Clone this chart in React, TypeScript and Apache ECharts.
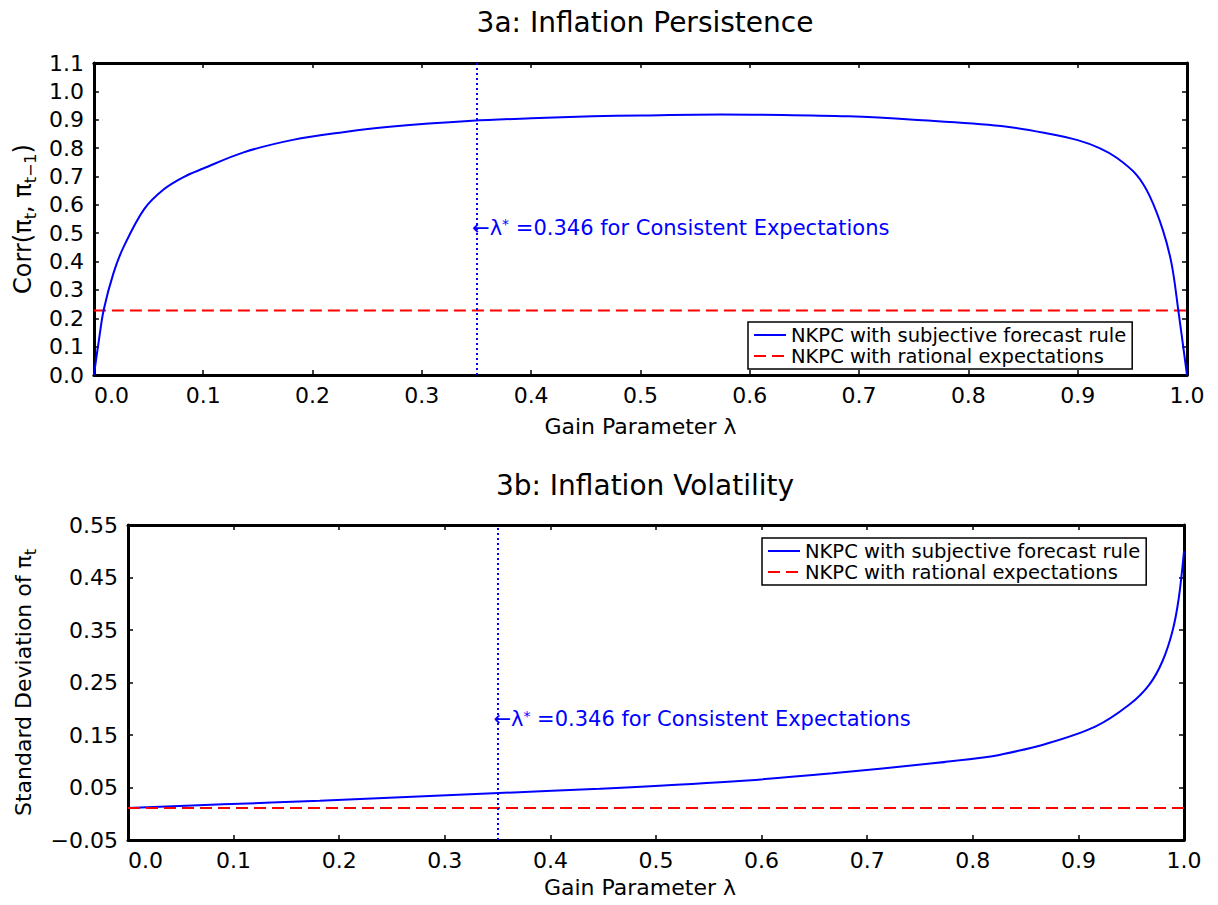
import React, { useEffect, useRef } from "react";
import * as echarts from "echarts";

const FONT = "DejaVu Sans";

// Panel 3a: correlation of inflation with its lag vs gain parameter
const lambdaTop = [0, 0.0046, 0.009, 0.018, 0.027, 0.046, 0.064, 0.082, 0.1, 0.137, 0.182, 0.228, 0.273, 0.346, 0.4, 0.456, 0.5, 0.574, 0.63, 0.69, 0.75, 0.83, 0.875, 0.9, 0.92, 0.936, 0.954, 0.966, 0.978, 0.986, 0.992, 1.0];
const corrTop = [0, 0.123, 0.23, 0.36, 0.45, 0.585, 0.655, 0.698, 0.728, 0.785, 0.829, 0.856, 0.876, 0.896, 0.905, 0.912, 0.915, 0.918, 0.917, 0.912, 0.90, 0.878, 0.85, 0.828, 0.80, 0.765, 0.705, 0.63, 0.51, 0.39, 0.23, 0];
const corrRE = 0.227;

// Panel 3b: standard deviation of inflation vs gain parameter
const lambdaBottom = [0, 0.09, 0.1816, 0.3457, 0.4465, 0.572, 0.667, 0.762, 0.806, 0.825, 0.869, 0.916, 0.948, 0.967, 0.9795, 0.989, 0.995, 1.0];
const sdBottom = [0.011, 0.018, 0.0247, 0.0391, 0.0475, 0.0614, 0.077, 0.096, 0.106, 0.112, 0.133, 0.166, 0.2075, 0.2456, 0.29, 0.347, 0.41, 0.5];
const sdRE = 0.011;

const lambdaEnds = [0, 1];
const lambdaStar = 0.346;
const annotTopY = 0.52;
const annotBottomY = 0.18;

const SUBJ = "NKPC with subjective forecast rule";
const RAT = "NKPC with rational expectations";

const BLUE = "#0000ff";
const RED = "#ff0000";

export default function App() {
  const ref = useRef<HTMLDivElement>(null);

  useEffect(() => {
    if (!ref.current) return;
    const chart = echarts.init(ref.current, undefined, { renderer: "svg" });

    const topPairs = lambdaTop.map((x, i) => [x, corrTop[i]]);
    const bottomPairs = lambdaBottom.map((x, i) => [x, sdBottom[i]]);
    const reTopPairs = lambdaEnds.map((x) => [x, corrRE]);
    const reBottomPairs = lambdaEnds.map((x) => [x, sdRE]);

    const axisLine = { show: true, onZero: false, lineStyle: { color: "#000", width: 3 } };
    const axisTick = { show: true, inside: true, length: 5, lineStyle: { color: "#000", width: 1.5 } };
    const labelStyle = { fontFamily: FONT, fontSize: 22, color: "#000" };

    const xBase = (grid: number, pos: "top" | "bottom", labels: boolean, nameGap: number, namePad: number[]) => ({
      type: "value",
      gridIndex: grid,
      position: pos,
      min: 0,
      max: 1,
      interval: 0.1,
      axisLine,
      axisTick,
      splitLine: { show: false },
      axisLabel: labels
        ? { show: true, margin: 9, ...labelStyle, alignMinLabel: "left", formatter: (v: number) => v.toFixed(1) }
        : { show: false },
      name: labels ? "Gain Parameter λ" : "",
      nameLocation: "middle",
      nameGap,
      nameTextStyle: { fontFamily: FONT, fontSize: 22, color: "#000", padding: namePad },
    });

    const nameStyle = (size: number) => ({
      fontFamily: FONT,
      fontSize: size,
      color: "#000",
      lineHeight: 30,
      rich: { sub: { fontFamily: FONT, fontSize: 16, color: "#000", verticalAlign: "bottom" } },
    });

    const yTop = (pos: "left" | "right", labels: boolean) => ({
      type: "value",
      gridIndex: 0,
      position: pos,
      min: 0,
      max: 1.1,
      interval: 0.1,
      axisLine,
      axisTick,
      splitLine: { show: false },
      axisLabel: labels ? { show: true, margin: 10, ...labelStyle, formatter: (v: number) => v.toFixed(1) } : { show: false },
      name: labels ? "Corr(π{sub|t}, π{sub|t−1})" : "",
      nameLocation: "middle",
      nameGap: 54,
      nameTextStyle: nameStyle(24),
    });

    const yBottom = (pos: "left" | "right", labels: boolean) => ({
      type: "value",
      gridIndex: 1,
      position: pos,
      min: -0.05,
      max: 0.55,
      interval: 0.1,
      axisLine,
      axisTick,
      splitLine: { show: false },
      axisLabel: labels
        ? {
            show: true,
            margin: 10,
            ...labelStyle,
            formatter: (v: number) => (v < 0 ? "\u2212" + Math.abs(v).toFixed(2) : v.toFixed(2)),
          }
        : { show: false },
      name: labels ? "Standard Deviation of π{sub|t}" : "",
      nameLocation: "middle",
      nameGap: 90,
      nameTextStyle: nameStyle(22),
    });

    const legendBase = {
      orient: "vertical",
      data: [SUBJ, RAT],
      backgroundColor: "#fff",
      borderColor: "#000",
      borderWidth: 1.5,
      borderRadius: 0,
      padding: [3, 6, 3, 5],
      itemGap: 1,
      itemWidth: 32,
      itemHeight: 12,
      selectedMode: false,
      itemStyle: { color: "rgba(0,0,0,0)", borderColor: "rgba(0,0,0,0)", borderWidth: 0, opacity: 0 },
      textStyle: { fontFamily: FONT, fontSize: 19.5, color: "#000" },
    };

    const annotLabel = (y: number) => ({
      symbol: "circle",
      symbolSize: 0,
      data: [{ coord: [lambdaStar, y] }],
      label: {
        show: true,
        position: "right",
        distance: 0,
        formatter: "←λ{sup|*} =0.346 for Consistent Expectations",
        fontFamily: FONT,
        fontSize: 21,
        color: BLUE,
        rich: { sup: { fontFamily: FONT, fontSize: 14, color: BLUE, verticalAlign: "top" } },
      },
      itemStyle: { color: BLUE },
    });

    const vLine = {
      symbol: "none",
      silent: true,
      label: { show: false },
      lineStyle: { color: BLUE, type: [2, 3], width: 2 },
      data: [{ xAxis: lambdaStar }],
    };

    const titleStyle = { fontFamily: FONT, fontSize: 28, fontWeight: "normal", color: "#000" };

    chart.setOption({
      animation: false,
      backgroundColor: "#fff",
      title: [
        { text: "3a: Inflation Persistence", left: 640, textAlign: "center", top: 3, textStyle: titleStyle },
        { text: "3b: Inflation Volatility", left: 640, textAlign: "center", top: 466, textStyle: titleStyle },
      ],
      legend: [
        { ...legendBase, left: 748, top: 322 },
        { ...legendBase, left: 762, top: 538 },
      ],
      grid: [
        { left: 90, right: 31, top: 63, height: 312, containLabel: false },
        { left: 128, right: 34, top: 525, height: 315, containLabel: false },
      ],
      xAxis: [
        xBase(0, "bottom", true, 40, [0, 0, 0, 0]),
        xBase(0, "top", false, 0, [0, 0, 0, 0]),
        xBase(1, "bottom", true, 36, [0, 32, 0, 0]),
        xBase(1, "top", false, 0, [0, 0, 0, 0]),
      ],
      yAxis: [yTop("left", true), yTop("right", false), yBottom("left", true), yBottom("right", false)],
      series: [
        {
          name: SUBJ,
          type: "line",
          xAxisIndex: 0,
          yAxisIndex: 0,
          data: topPairs,
          symbol: "none",
          smooth: 0.35,
          lineStyle: { color: BLUE, width: 2 },
          itemStyle: { color: BLUE },
          markLine: vLine,
          markPoint: annotLabel(annotTopY),
          z: 3,
        },
        {
          name: RAT,
          type: "line",
          xAxisIndex: 0,
          yAxisIndex: 0,
          data: reTopPairs,
          symbol: "none",
          lineStyle: { color: RED, width: 2, type: [12, 6] },
          itemStyle: { color: RED },
          z: 2,
        },
        {
          name: SUBJ,
          type: "line",
          xAxisIndex: 2,
          yAxisIndex: 2,
          data: bottomPairs,
          symbol: "none",
          smooth: 0.35,
          lineStyle: { color: BLUE, width: 2 },
          itemStyle: { color: BLUE },
          markLine: vLine,
          markPoint: annotLabel(annotBottomY),
          z: 3,
        },
        {
          name: RAT,
          type: "line",
          xAxisIndex: 2,
          yAxisIndex: 2,
          data: reBottomPairs,
          symbol: "none",
          lineStyle: { color: RED, width: 2, type: [12, 6] },
          itemStyle: { color: RED },
          z: 4,
        },
      ],
    });

    return () => chart.dispose();
  }, []);

  return (
    <div
      ref={ref}
      style={{ position: "fixed", left: 0, top: 0, width: 1218, height: 905, background: "#fff" }}
    />
  );
}
